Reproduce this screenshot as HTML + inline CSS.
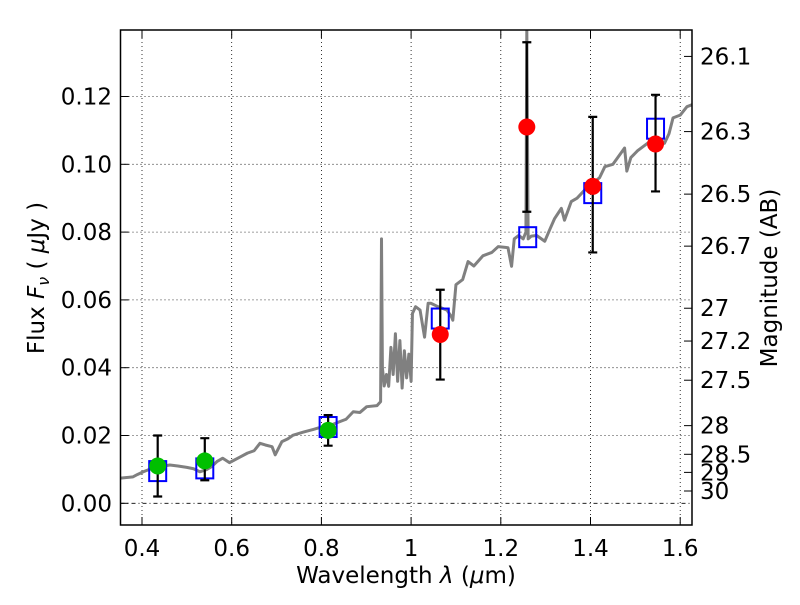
<!DOCTYPE html>
<html><head><meta charset="utf-8"><style>
body{margin:0;background:#fff}
svg text{font-family:"DejaVu Sans","Liberation Sans",sans-serif;fill:#000;font-size:23px}
</style></head><body>
<svg id="chart" width="800" height="600" xmlns="http://www.w3.org/2000/svg">
<defs><clipPath id="clip"><rect x="120.5" y="30" width="571.5" height="495"/></clipPath></defs>
<g id="grid"></g>
<g id="spec" clip-path="url(#clip)"></g>
<g id="marks" clip-path="url(#clip)"></g>
<rect x="120.5" y="30" width="571.5" height="495" fill="none" stroke="#000" stroke-width="1.5"/>
<g id="axes"></g>
<text x="406" y="583" text-anchor="middle" style="font-size:23px">Wavelength  <tspan font-style="italic">λ</tspan> (<tspan font-style="italic">μ</tspan>m)</text>
<text transform="translate(44,278) rotate(-90)" text-anchor="middle" style="font-size:23px">Flux  <tspan font-style="italic">F</tspan><tspan font-style="italic" style="font-size:16px" dy="5">ν</tspan><tspan dy="-5">  ( </tspan><tspan font-style="italic">μ</tspan>Jy )</text>
<text transform="translate(777,278) rotate(-90)" text-anchor="middle" style="font-size:23px">Magnitude (AB)</text>
</svg>
<script>
const xTicks=[0.4,0.6,0.8,1.0,1.2,1.4,1.6];
const xTickLabels=["0.4","0.6","0.8","1","1.2","1.4","1.6"];
const yTicks=[0,0.02,0.04,0.06,0.08,0.10,0.12];
const yTickLabels=["0.00","0.02","0.04","0.06","0.08","0.10","0.12"];
const magTicks=[26.1,26.3,26.5,26.7,27,27.2,27.5,28,28.5,29,30];
const specWave=[0.351,0.38,0.39,0.403,0.42,0.44,0.462,0.48,0.50,0.515,0.529,0.545,0.555,0.567,0.58,0.595,0.618,0.635,0.65,0.663,0.675,0.69,0.697,0.712,0.725,0.737,0.76,0.782,0.80,0.82,0.841,0.855,0.871,0.886,0.901,0.924,0.932,0.934,0.936,0.94,0.945,0.95,0.955,0.96,0.965,0.97,0.975,0.98,0.985,0.99,0.995,1.0,1.003,1.01,1.02,1.03,1.038,1.044,1.06,1.08,1.09,1.093,1.1,1.115,1.127,1.14,1.16,1.18,1.194,1.21,1.216,1.224,1.23,1.24,1.25,1.256,1.258,1.261,1.268,1.28,1.298,1.31,1.32,1.335,1.342,1.357,1.37,1.387,1.4,1.42,1.432,1.45,1.469,1.476,1.481,1.49,1.505,1.52,1.535,1.55,1.565,1.575,1.584,1.6,1.615,1.629];
const specFlux=[0.0074,0.0078,0.0085,0.0093,0.0102,0.0108,0.0113,0.0110,0.0106,0.0102,0.0093,0.0100,0.0108,0.0123,0.0133,0.0120,0.0136,0.0148,0.0155,0.0177,0.0172,0.0167,0.0143,0.0182,0.0190,0.0201,0.0210,0.0218,0.0225,0.0230,0.0241,0.0248,0.0270,0.0268,0.0285,0.0288,0.0300,0.078,0.040,0.0346,0.038,0.0345,0.046,0.038,0.05,0.036,0.048,0.034,0.045,0.037,0.044,0.036,0.056,0.058,0.057,0.049,0.059,0.059,0.058,0.057,0.055,0.054,0.0645,0.066,0.0713,0.070,0.073,0.074,0.0757,0.0755,0.0754,0.0699,0.078,0.079,0.078,0.080,0.14,0.078,0.0788,0.079,0.0773,0.081,0.084,0.087,0.0835,0.089,0.090,0.0924,0.094,0.096,0.0993,0.100,0.1035,0.1048,0.098,0.102,0.104,0.1055,0.107,0.108,0.1062,0.109,0.1137,0.1145,0.117,0.1177];
const modelWave=[0.435,0.54,0.815,1.065,1.26,1.405,1.545];
const modelFlux=[0.0095,0.0103,0.0225,0.0545,0.0785,0.0915,0.1105];
const greenWave=[0.435,0.54,0.815];
const greenFlux=[0.011,0.0125,0.0215];
const greenLo=[0.002,0.0068,0.017];
const greenHi=[0.020,0.0192,0.026];
const redWave=[1.065,1.258,1.405,1.545];
const redFlux=[0.0498,0.111,0.0935,0.106];
const redLo=[0.0365,0.086,0.074,0.092];
const redHi=[0.063,0.136,0.114,0.1205];

const NS="http://www.w3.org/2000/svg";
const X=v=>142+(v-0.4)*448.5;
const Y=v=>503.3-v*3390;
const magToFlux=m=>Math.pow(10,(23.9-m)/2.5);
function mk(tag,attrs,parent){const e=document.createElementNS(NS,tag);for(const k in attrs)e.setAttribute(k,attrs[k]);parent.appendChild(e);return e;}
const grid=document.getElementById('grid'),axes=document.getElementById('axes'),spec=document.getElementById('spec'),marks=document.getElementById('marks');
xTicks.forEach((t,i)=>{
 const g=mk('line',{x1:X(t),x2:X(t),y1:30,y2:525,stroke:'#000','stroke-width':0.8,'stroke-dasharray':'1,3'},grid);
 
 const a=mk('line',{x1:X(t),x2:X(t),y1:525,y2:517,stroke:'#000'},axes);
 
 const b=mk('line',{x1:X(t),x2:X(t),y1:30,y2:38,stroke:'#000'},axes);
 
 const tx=mk('text',{x:X(t),y:556,'text-anchor':'middle'},axes);tx.textContent=xTickLabels[i];
 
});
yTicks.forEach((t,i)=>{
 const g=mk('line',{x1:120.5,x2:692,y1:Y(t),y2:Y(t),stroke:'#000','stroke-width':0.8,'stroke-dasharray':i==0?'4,3,1,3':'1,3'},grid);
 
 const a=mk('line',{x1:120.5,x2:128.5,y1:Y(t),y2:Y(t),stroke:'#000'},axes);
 
 const tx=mk('text',{x:112,y:Y(t)+8,'text-anchor':'end'},axes);tx.textContent=yTickLabels[i];
 
});
magTicks.forEach(m=>{
 const y=Y(magToFlux(m));
 const a=mk('line',{x1:684,x2:692,y1:y,y2:y,stroke:'#000'},axes);
 
 const tx=mk('text',{x:700,y:y+8},axes);tx.textContent=String(m);
 
});
const sp=mk('polyline',{points:specWave.map((w,i)=>X(w)+','+Y(specFlux[i])).join(' '),fill:'none',stroke:'#808080','stroke-width':3,'stroke-linejoin':'round'},spec);

modelWave.forEach((w,i)=>{
 const r=mk('rect',{x:X(w)-8.5,y:Y(modelFlux[i])-10,width:17,height:20,fill:'none',stroke:'#0000ff','stroke-width':2},marks);
 
});
function pts(ws,fs,lo,hi,col,name){
 ws.forEach((w,i)=>{
  const e=mk('path',{d:`M${X(w)},${Y(lo[i])}V${Y(hi[i])}M${X(w)-4.5},${Y(lo[i])}h9M${X(w)-4.5},${Y(hi[i])}h9`,stroke:'#000','stroke-width':2.2,fill:'none'},marks);
  
  const c=mk('circle',{cx:X(w),cy:Y(fs[i]),r:8.5,fill:col},marks);
  
 });
}
pts(greenWave,greenFlux,greenLo,greenHi,'#00bf00','green');
pts(redWave,redFlux,redLo,redHi,'#ff0000','red');
</script>
</body></html>
